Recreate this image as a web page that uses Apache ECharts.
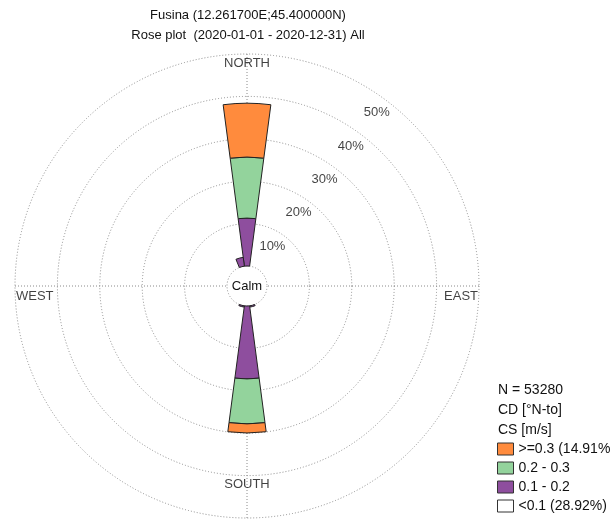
<!DOCTYPE html>
<html><head><meta charset="utf-8">
<script src="https://cdn.jsdelivr.net/npm/echarts@6/dist/echarts.min.js"></script>
<style>html,body{margin:0;padding:0;background:#fff}#c{width:610px;height:520px}</style>
</head><body><div id="c"></div>
<script>
// ---- data ----
const titleLines = ['Fusina (12.261700E;45.400000N)', 'Rose plot  (2020-01-01 - 2020-12-31) All'];
const directions = ['0','15','30','45','60','75','90','105','120','135','150','165','180','195','210','225','240','255','270','285','300','315','330','345'];
// percent of time per direction sector, by current speed class
const cs_01_02 = [11.3,0,0,0,0,0,0,0,0,0,0,0.3,17.2,0.3,0,0,0,0,0,0,0,0,0,2.1];
const cs_02_03 = [14.4,0,0,0,0,0,0,0,0,0,0,0,10.6,0,0,0,0,0,0,0,0,0,0,0];
const cs_03    = [12.7,0,0,0,0,0,0,0,0,0,0,0,2.15,0,0,0,0,0,0,0,0,0,0,0];
const classNames = ['>=0.3 (14.91%)', '0.2 - 0.3', '0.1 - 0.2', '<0.1 (28.92%)'];
const ringTicks = [10, 20, 30, 40, 50];
const compass = [['NORTH',0],['EAST',90],['SOUTH',180],['WEST',270]];
const infoLines = ['N = 53280', 'CD [°N-to]', 'CS [m/s]'];

// ---- chart ----
const font = '"Liberation Sans", Arial, sans-serif';
const txt = '#111';
const C = [247, 286], R = [20, 232];
const dotted = {type: [1, 2], color: '#8a8a8a', width: 1};
const colors = {o: '#FF8B3D', g: '#93D39C', p: '#8E4E9E'};
const chart = echarts.init(document.getElementById('c'));
const nz = arr => arr.map(v => (v === 0 ? '-' : v));

const compassLabel = {
  NORTH: {align: 'center', verticalAlign: 'top', offset: [0, 3]},
  EAST:  {align: 'right', verticalAlign: 'top', offset: [-1, 4]},
  SOUTH: {align: 'center', verticalAlign: 'bottom', offset: [0, -27]},
  WEST:  {align: 'left', verticalAlign: 'top', offset: [1, 4]}
};

const barBase = {type: 'bar', coordinateSystem: 'polar', polarIndex: 0, stack: 'cs',
  barCategoryGap: '0%', silent: true};

chart.setOption({
  animation: false,
  textStyle: {fontFamily: font},
  polar: [{center: C, radius: R}, {center: C, radius: R}],
  angleAxis: [
    {polarIndex: 0, type: 'category', data: directions, startAngle: 97.5, clockwise: true,
     axisLine: {show: false}, axisTick: {show: false}, axisLabel: {show: false}, splitLine: {show: false}},
    {polarIndex: 1, type: 'value', min: 0, max: 360, interval: 90, startAngle: 90, clockwise: true,
     axisLine: {show: false}, axisTick: {show: false}, axisLabel: {show: false},
     splitLine: {show: true, lineStyle: dotted}}
  ],
  radiusAxis: [
    {polarIndex: 0, type: 'value', min: 0, max: 50, interval: 10,
     axisLine: {show: false}, axisTick: {show: false}, axisLabel: {show: false}, splitLine: {show: false}},
    {polarIndex: 1, type: 'value', min: 0, max: 50, interval: 10,
     axisLine: {show: false}, axisTick: {show: false}, axisLabel: {show: false},
     splitLine: {show: true, lineStyle: dotted}}
  ],
  legend: {
    orient: 'vertical', left: 497, top: 442, padding: 0, itemWidth: 16, itemHeight: 12, itemGap: 5,
    icon: 'rect', selectedMode: false, data: classNames,
    itemStyle: {borderColor: '#333', borderWidth: 1},
    textStyle: {fontSize: 14, color: txt, fontFamily: font}
  },
  series: [
    Object.assign({}, barBase, {name: classNames[2], data: nz(cs_01_02), itemStyle: {color: colors.p, borderColor: '#222', borderWidth: 1}}),
    Object.assign({}, barBase, {name: classNames[1], data: nz(cs_02_03), itemStyle: {color: colors.g, borderColor: '#222', borderWidth: 1}}),
    Object.assign({}, barBase, {name: classNames[0], data: nz(cs_03), itemStyle: {color: colors.o, borderColor: '#222', borderWidth: 1}}),
    Object.assign({}, barBase, {name: classNames[3], data: [], itemStyle: {color: '#fff', borderColor: '#222', borderWidth: 1}}),
    {type: 'scatter', coordinateSystem: 'polar', polarIndex: 1, symbolSize: 0, silent: true, z: 5,
     data: ringTicks.map(t => ({value: [t, 38], name: t + '%'})),
     label: {show: true, formatter: '{b}', position: [0, 0], align: 'right', verticalAlign: 'top',
             offset: [0, 3], fontSize: 13, color: txt, fontFamily: font}},
    {type: 'scatter', coordinateSystem: 'polar', polarIndex: 1, symbolSize: 0, silent: true, z: 5,
     data: compass.map(([n, a]) => ({value: [50, a], name: n,
        label: Object.assign({show: true, formatter: '{b}', position: [0, 0], fontSize: 13, color: txt, fontFamily: font}, compassLabel[n])}))}
  ],
  graphic: [
    {type: 'text', x: 248, y: 9, style: {text: titleLines[0], font: '13px ' + font, fill: txt, align: 'center', verticalAlign: 'top'}},
    {type: 'text', x: 248, y: 29, style: {text: titleLines[1], font: '13px ' + font, fill: txt, align: 'center', verticalAlign: 'top'}},
    {type: 'text', x: C[0], y: C[1], z: 10, style: {text: 'Calm', font: '13px ' + font, fill: txt, align: 'center', verticalAlign: 'middle'}},
    {type: 'text', x: 498, y: 380, style: {text: infoLines.join('\n'), font: '14px ' + font, lineHeight: 20, fill: txt, align: 'left', verticalAlign: 'top'}}
  ]
});
</script></body></html>
